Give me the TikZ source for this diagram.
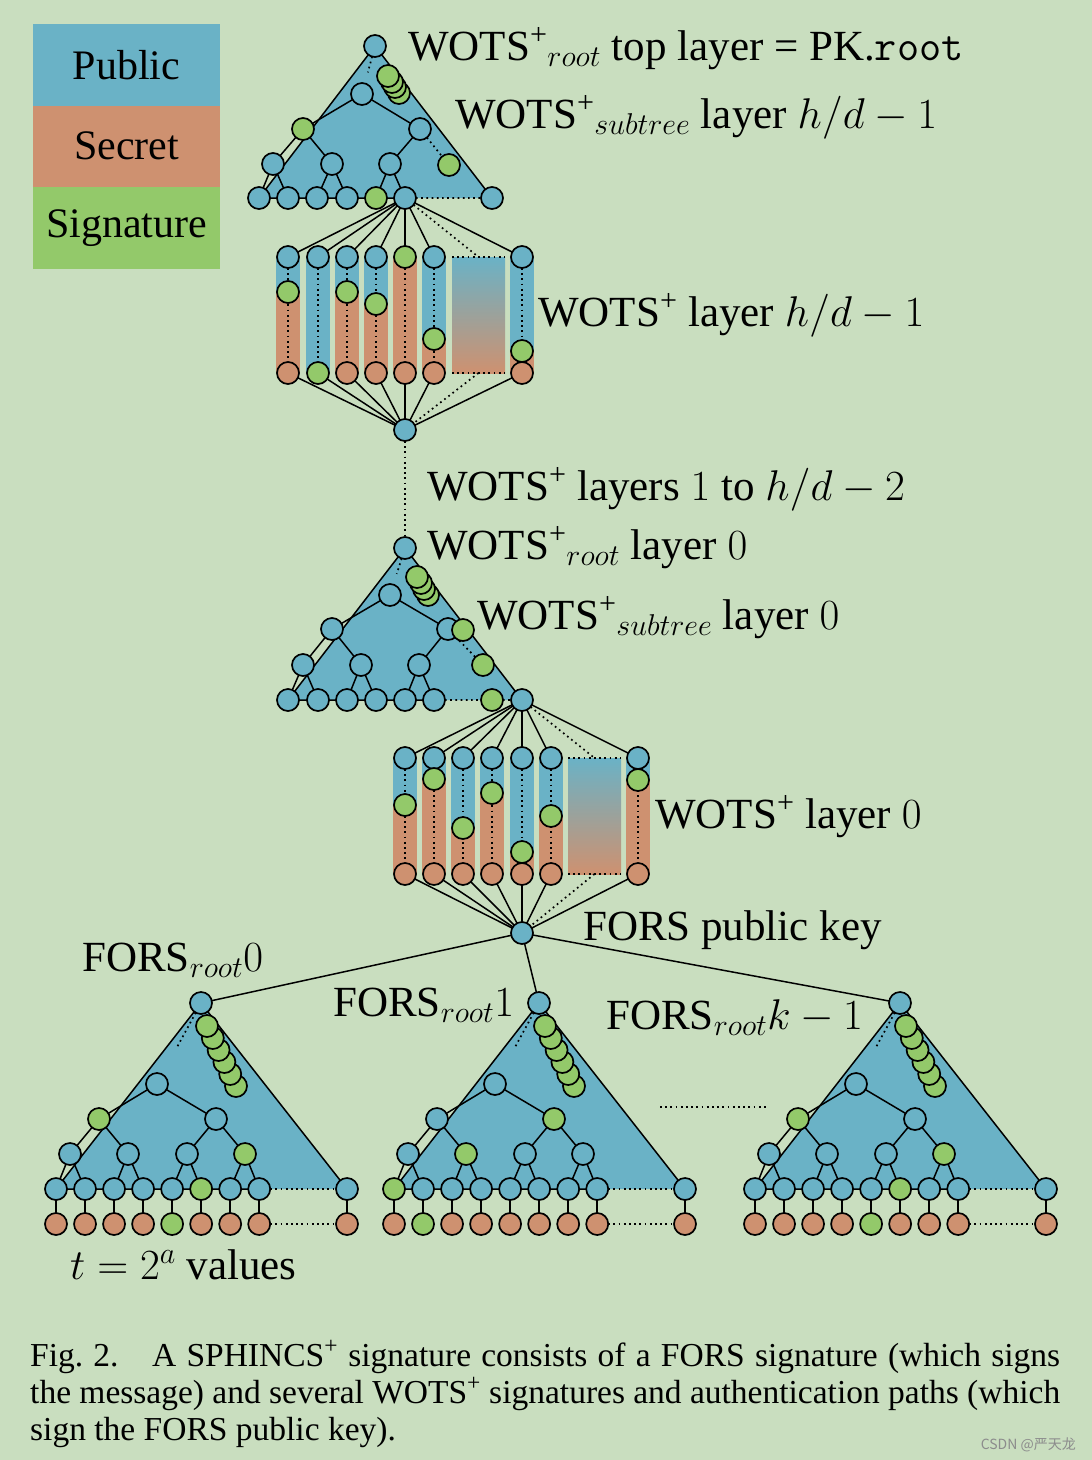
\RequirePackage{fix-cm}
\documentclass[tikz,border=0pt]{standalone}
\usepackage[no-math]{fontspec}
\setmainfont{Liberation Serif}
\newfontfamily\cjkfont{Noto Sans CJK SC}
\usetikzlibrary{calc}
\definecolor{bgc}{HTML}{C9DEBF}
\definecolor{pubc}{HTML}{6AB2C6}
\definecolor{secc}{HTML}{CE9170}
\definecolor{sigc}{HTML}{93C96A}
\pgfdeclarelayer{bgl}
\pgfdeclarelayer{tril}
\pgfdeclarelayer{edgel}
\pgfsetlayers{bgl,tril,edgel,main}
\tikzset{
  nd/.style={circle, draw=black, line width=1.7pt, minimum size=22pt, inner sep=0pt, outer sep=0pt},
  pub/.style={nd, fill=pubc},
  sec/.style={nd, fill=secc},
  sig/.style={nd, fill=sigc},
  edge/.style={line width=1.5pt},
  dots/.style={line width=1.7pt, dash pattern=on 1.7pt off 3.5pt},
  lbl/.style={anchor=base west, inner sep=0pt, font=\fontsize{43}{50}\selectfont},
  leg/.style={minimum width=187pt, minimum height=81.5pt, inner sep=0pt, font=\fontsize{42}{48}\selectfont},
}
\newcommand\wots{WOTS\textsuperscript{+}}
\newcommand\forstree[6]{%
 \begin{scope}[shift={(#2,0)}]
  \node[pub] (#1r) at (201,1003) {};
  \node[pub] (#1a) at (157,1084) {};
  \foreach \i/\x in {1/99,2/216}{%
    \ifnum\i=#3 \def\tst{sig}\else\def\tst{pub}\fi
    \node[\tst] (#1b\i) at (\x,1119) {};}
  \foreach \i/\x in {1/70,2/128,3/187,4/245}{%
    \ifnum\i=#4 \def\tst{sig}\else\def\tst{pub}\fi
    \node[\tst] (#1c\i) at (\x,1154) {};}
  \foreach \i in {1,2,3,4,5,6,7,8}{%
    \ifnum\i=#5 \def\tst{sig}\else\def\tst{pub}\fi
    \ifnum\i=#6 \def\sst{sig}\else\def\sst{sec}\fi
    \node[\tst] (#1l\i) at ({56+29.03*(\i-1)},1189) {};
    \node[\sst] (#1s\i) at ({56+29.03*(\i-1)},1224) {};}
  \node[pub] (#1l9) at (347,1189) {};
  \node[sec] (#1s9) at (347,1224) {};
  \foreach \k in {6,5,4,3,2,1}{%
    \node[sig] (#1g\k) at ({207+5.8*(\k-1)},{1026+12*(\k-1)}) {};}
  \begin{pgfonlayer}{tril}
    \fill[pubc] (#1r.center) -- (#1l1.center) -- (#1l9.center) -- cycle;
    \draw[edge] (#1l1.center) -- (#1r.center) -- (#1l9.center);
  \end{pgfonlayer}
  \begin{pgfonlayer}{edgel}
    \draw[edge] (#1a) -- (#1b1) (#1a) -- (#1b2)
      (#1b1) -- (#1c1) (#1b1) -- (#1c2) (#1b2) -- (#1c3) (#1b2) -- (#1c4)
      (#1c1) -- (#1l1) (#1c1) -- (#1l2) (#1c2) -- (#1l3) (#1c2) -- (#1l4)
      (#1c3) -- (#1l5) (#1c3) -- (#1l6) (#1c4) -- (#1l7) (#1c4) -- (#1l8)
      (#1l1.center) -- (#1l8.center);
    \foreach \i in {1,2,3,4,5,6,7,8,9}{\draw[edge] (#1l\i) -- (#1s\i);}
    \draw[dots] (#1l8) -- (#1l9) (#1s8) -- (#1s9);
    \draw[dots] (#1r) -- ($(#1r)!0.55!(#1a)$);
  \end{pgfonlayer}
 \end{scope}}
\begin{document}
\begin{tikzpicture}[x=1pt,y=-1pt]
\useasboundingbox (0,0) rectangle (1092,1460);
\begin{pgfonlayer}{bgl}
\fill[bgc] (0,0) rectangle (1092,1460);
\end{pgfonlayer}
% legend
\node[leg, fill=pubc] (lgpub) at (126.5,64.75) {Public};
\node[leg, fill=secc] (lgsec) at (126.5,146.25) {Secret};
\node[leg, fill=sigc] (lgsig) at (126.5,227.75) {Signature};
% ---------- top WOTS tree
\node[pub] (t1r) at (375,46) {};
\node[pub] (t1a) at (362,94) {};
\node[sig] (t1b1) at (303,129) {};
\node[pub] (t1b2) at (420,129) {};
\node[pub] (t1c1) at (273,164) {};
\node[pub] (t1c2) at (332,164) {};
\node[pub] (t1c3) at (390,164) {};
\node[sig] (t1cg) at (449,165) {};
\foreach \i/\x in {1/259,2/288,3/317,4/347,6/405,7/492}{\node[pub] (t1l\i) at (\x,198) {};}
\node[sig] (t1l5) at (376,198) {};
\node[sig] (t1s4) at (399,93) {};
\node[sig] (t1s3) at (395,87) {};
\node[sig] (t1s2) at (392,82) {};
\node[sig] (t1s1) at (388,76) {};
\begin{pgfonlayer}{tril}
  \fill[pubc] (t1r.center) -- (t1l1.center) -- (t1l7.center) -- cycle;
  \draw[edge] (t1l1.center) -- (t1r.center) -- (t1l7.center);
\end{pgfonlayer}
\begin{pgfonlayer}{edgel}
  \draw[edge] (t1a) -- (t1b1) (t1a) -- (t1b2) (t1b1) -- (t1c1) (t1b1) -- (t1c2)
    (t1b2) -- (t1c3) (t1c1) -- (t1l1) (t1c1) -- (t1l2) (t1c2) -- (t1l3) (t1c2) -- (t1l4)
    (t1c3) -- (t1l5) (t1c3) -- (t1l6) (t1l1.center) -- (t1l6.center);
  \draw[dots] (t1b2) -- (t1cg) (t1l6) -- (t1l7);
  \draw[dots] (t1r) -- ($(t1r)!0.55!(t1a)$);
\end{pgfonlayer}
% ---------- WOTS chains h/d-1
\node[pub] (p1) at (405,430) {};
\foreach \i/\x/\g in {1/288/292,2/318/373,3/347/292,4/376/304,5/405/257,6/434/339,7/522/351}{%
  \ifnum\g=257 \def\tst{sig}\else\def\tst{pub}\fi
  \ifnum\g=373 \def\bst{sig}\else\def\bst{sec}\fi
  \node[\tst] (w1t\i) at (\x,257) {};
  \node[\bst] (w1b\i) at (\x,373) {};
  \ifnum\g>257 \ifnum\g<373 \node[sig] (w1g\i) at (\x,\g) {};\fi\fi
  \begin{pgfonlayer}{tril}
    \fill[pubc] (\x-12,257) rectangle (\x+12,\g);
    \fill[secc] (\x-12,\g) rectangle (\x+12,373);
  \end{pgfonlayer}
  \begin{pgfonlayer}{edgel}
    \draw[dots] (w1t\i) -- (w1b\i);
    \draw[edge] (t1l6) -- (w1t\i) (w1b\i) -- (p1);
  \end{pgfonlayer}}
\coordinate (g1t) at (478.5,257);
\coordinate (g1b) at (478.5,373);
\begin{pgfonlayer}{tril}
  \shade[top color=pubc, bottom color=secc] (452,257) rectangle (505,373);
\end{pgfonlayer}
\begin{pgfonlayer}{edgel}
  \draw[dots] (452,257) -- (505,257) (452,373) -- (505,373);
  \draw[dots] (t1l6) -- (g1t) (g1b) -- (p1);
\end{pgfonlayer}
% ---------- layer 0 tree
\node[pub] (t2r) at (405,548) {};
\node[pub] (t2a) at (390,595) {};
\node[pub] (t2b1) at (332,629) {};
\node[pub] (t2b2) at (448,629) {};
\node[sig] (t2bg) at (463,630) {};
\node[pub] (t2c1) at (303,665) {};
\node[pub] (t2c2) at (361,665) {};
\node[pub] (t2c3) at (419,665) {};
\node[sig] (t2cg) at (483,665) {};
\foreach \i/\x in {1/288,2/318,3/347,4/376,5/405,6/434,8/522}{\node[pub] (t2l\i) at (\x,700) {};}
\node[sig] (t2l7) at (492,700) {};
\node[sig] (t2s4) at (428,595) {};
\node[sig] (t2s3) at (424,589) {};
\node[sig] (t2s2) at (421,583) {};
\node[sig] (t2s1) at (417,577) {};
\begin{pgfonlayer}{tril}
  \fill[pubc] (t2r.center) -- (t2l1.center) -- (t2l8.center) -- cycle;
  \draw[edge] (t2l1.center) -- (t2r.center) -- (t2l8.center);
\end{pgfonlayer}
\begin{pgfonlayer}{edgel}
  \draw[dots] (p1) -- (t2r);
  \draw[edge] (t2a) -- (t2b1) (t2a) -- (t2b2) (t2b1) -- (t2c1) (t2b1) -- (t2c2)
    (t2b2) -- (t2c3) (t2c1) -- (t2l1) (t2c1) -- (t2l2) (t2c2) -- (t2l3) (t2c2) -- (t2l4)
    (t2c3) -- (t2l5) (t2c3) -- (t2l6) (t2l1.center) -- (t2l6.center);
  \draw[dots] (t2b2) -- (t2cg) (t2l6) -- (t2l7) (t2l7) -- (t2l8);
  \draw[dots] (t2r) -- ($(t2r)!0.55!(t2a)$);
\end{pgfonlayer}
% ---------- WOTS chains layer 0
\node[pub] (p2) at (522,933) {};
\foreach \i/\x/\g in {1/405/805,2/434/779,3/463/828,4/492/793,5/522/852,6/551/816,7/638/780}{%
  \node[pub] (w2t\i) at (\x,758) {};
  \node[sec] (w2b\i) at (\x,874) {};
  \node[sig] (w2g\i) at (\x,\g) {};
  \begin{pgfonlayer}{tril}
    \fill[pubc] (\x-12,758) rectangle (\x+12,\g);
    \fill[secc] (\x-12,\g) rectangle (\x+12,874);
  \end{pgfonlayer}
  \begin{pgfonlayer}{edgel}
    \draw[dots] (w2t\i) -- (w2b\i);
    \draw[edge] (t2l8) -- (w2t\i) (w2b\i) -- (p2);
  \end{pgfonlayer}}
\coordinate (g2t) at (594.5,758);
\coordinate (g2b) at (594.5,874);
\begin{pgfonlayer}{tril}
  \shade[top color=pubc, bottom color=secc] (568,758) rectangle (621,874);
\end{pgfonlayer}
\begin{pgfonlayer}{edgel}
  \draw[dots] (568,758) -- (621,758) (568,874) -- (621,874);
  \draw[dots] (t2l8) -- (g2t) (g2b) -- (p2);
\end{pgfonlayer}
% ---------- FORS trees
\forstree{fa}{0}{1}{4}{6}{5}
\forstree{fb}{338}{2}{2}{1}{2}
\forstree{fc}{699}{1}{4}{6}{5}
\begin{pgfonlayer}{edgel}
  \draw[edge] (p2) -- (far) (p2) -- (fbr) (p2) -- (fcr);
\end{pgfonlayer}
\coordinate (gapl) at (660,1107);
\coordinate (gapr) at (766,1107);
\draw[dots] (gapl) -- (gapr);
% ---------- labels
\node[lbl] (lb1) at (408,60) {\wots${}_{root}$ top layer = PK.\texttt{root}};
\node[lbl] (lb2) at (455,128) {\wots${}_{subtree}$ layer $h/d-1$};
\node[lbl] (lb3) at (538,326) {\wots{} layer $h/d-1$};
\node[lbl] (lb4) at (427,500) {\wots{} layers $1$ to $h/d-2$};
\node[lbl] (lb5) at (427,559) {\wots${}_{root}$ layer $0$};
\node[lbl] (lb6) at (477,629) {\wots${}_{subtree}$ layer $0$};
\node[lbl] (lb7) at (655,828) {\wots{} layer $0$};
\node[lbl] (lb8) at (583,940) {FORS public key};
\node[lbl] (lb9) at (82,971) {FORS$_{root}0$};
\node[lbl] (lb10) at (333,1016) {FORS$_{root}1$};
\node[lbl] (lb11) at (606,1029) {FORS$_{root}k-1$};
\node[lbl] (lb12) at (70,1279) {$t=2^a$ values};
% ---------- caption
\node[anchor=base west, inner sep=0pt, text width=1030pt, align=justify,
  font=\fontsize{33.5}{37}\selectfont] (cap) at (30,1366)
  {Fig.~2.\quad A SPHINCS\textsuperscript{+} signature consists of a FORS signature (which signs\linebreak
   the message) and several WOTS\textsuperscript{+} signatures and authentication paths (which\linebreak
   sign the FORS public key).};
\node[anchor=base east, inner sep=0pt, text=black!45, font=\cjkfont\fontsize{14}{16}\selectfont] (wm) at (1076,1449) {CSDN @严天龙};
\end{tikzpicture}
\end{document}
